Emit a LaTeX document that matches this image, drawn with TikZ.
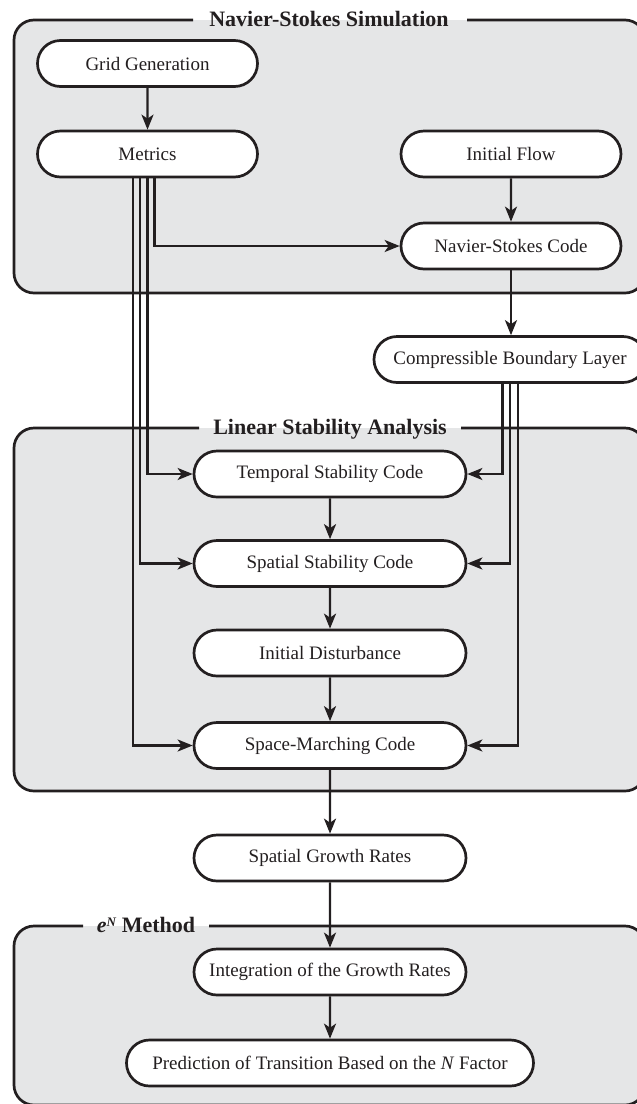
\documentclass[tikz,border=0pt]{standalone}
\usepackage{fontspec}
\setmainfont{Liberation Serif}
\usetikzlibrary{shapes.misc,arrows.meta}
\definecolor{panelgray}{RGB}{229,230,231}
\definecolor{ink}{RGB}{35,31,32}
\tikzset{
  box/.style={rounded rectangle, draw=ink, fill=white, line width=2.7pt,
    minimum height=46pt, inner sep=0pt, font=\fontsize{19}{22}\selectfont, text=ink},
  arr/.style={draw=ink, line width=2.4pt, -{Stealth[length=15pt,width=12pt,inset=4pt]}},
  panel/.style={draw=ink, line width=2.7pt, rounded corners=20pt},
  ptitle/.style={anchor=base, font=\fontsize{22}{24}\selectfont\bfseries, text=ink, inner sep=0pt},
}
\begin{document}
\begin{tikzpicture}[x=1pt,y=-1pt]
\useasboundingbox (0,0) rectangle (637,1104);
% panels
\fill[panelgray, rounded corners=20pt] (14,20) rectangle (645,293);
\draw[panel] (467,20) -- (645,20) -- (645,293) -- (14,293) -- (14,20) -- (193,20);
\node[ptitle] (t1) at (329,26) {Navier-Stokes Simulation};

\fill[panelgray, rounded corners=20pt] (14,428) rectangle (645,791);
\draw[panel] (461,428) -- (645,428) -- (645,791) -- (14,791) -- (14,428) -- (199,428);
\node[ptitle] (t2) at (330,434) {Linear Stability Analysis};

\fill[panelgray, rounded corners=20pt] (14,926) rectangle (645,1105);
\draw[panel] (209,926) -- (645,926) -- (645,1105) -- (14,1105) -- (14,926) -- (83,926);
\node[ptitle] (t3) at (146,932) {\textit{e}\raisebox{0.55ex}{\fontsize{13}{13}\selectfont\textit{N}} Method};

% nodes
\node[box, minimum width=220pt] (grid) at (147.5,63.5) {Grid Generation};
\node[box, minimum width=220pt] (metrics) at (147.5,154) {Metrics};
\node[box, minimum width=220pt] (iflow) at (511,154) {Initial Flow};
\node[box, minimum width=220pt] (ns) at (511,246) {Navier-Stokes Code};
\node[box, minimum width=272pt] (cbl) at (510,359.5) {Compressible Boundary Layer};
\node[box, minimum width=272pt] (temp) at (330,474) {Temporal Stability Code};
\node[box, minimum width=272pt] (spat) at (330,563.5) {Spatial Stability Code};
\node[box, minimum width=272pt] (idist) at (330,653) {Initial Disturbance};
\node[box, minimum width=272pt] (smc) at (330,745.5) {Space-Marching Code};
\node[box, minimum width=272pt] (sgr) at (330,858) {Spatial Growth Rates};
\node[box, minimum width=272pt] (integ) at (330,972) {Integration of the Growth Rates};
\node[box, minimum width=407pt] (pred) at (330,1063) {Prediction of Transition Based on the \textit{N} Factor};

% connectors
\draw[arr] (grid) -- (metrics);
\draw[arr] (iflow) -- (ns);
\draw[arr] ([xshift=7pt]metrics.south) |- (ns.west);
\draw[arr] (metrics.south) |- (temp.west);
\draw[arr] ([xshift=-7.5pt]metrics.south) |- (spat.west);
\draw[arr] ([xshift=-14.5pt]metrics.south) |- (smc.west);
\draw[arr] (ns.south) -- (ns.south |- cbl.north);
\draw[arr] ([xshift=-7.5pt]cbl.south) |- (temp.east);
\draw[arr] (cbl.south) |- (spat.east);
\draw[arr] ([xshift=8pt]cbl.south) |- (smc.east);
\draw[arr] (temp) -- (spat);
\draw[arr] (spat) -- (idist);
\draw[arr] (idist) -- (smc);
\draw[arr] (smc) -- (sgr);
\draw[arr] (sgr) -- (integ);
\draw[arr] (integ) -- (pred);
\end{tikzpicture}
\end{document}
